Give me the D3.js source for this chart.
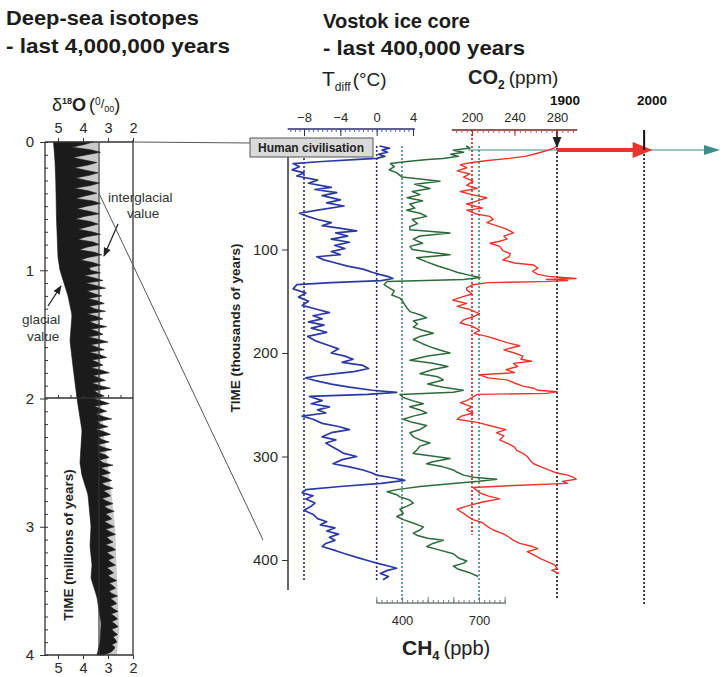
<!DOCTYPE html>
<html>
<head>
<meta charset="utf-8">
<script src="https://cdn.jsdelivr.net/npm/d3@7"></script>
<style>
  body { margin: 0; background: #fff; }
  svg { display: block; font-family: "Liberation Sans", Arial, sans-serif; }
</style>
</head>
<body>
<svg id="chart" width="722" height="677"></svg>
<script>
// ---- deep-sea record (millions of years, d18O per mil) ----
const deepStep = 0.02;
const deepBlackEdge = [
  3.60, 3.95, 4.45, 3.70, 3.30, 3.85, 4.40, 3.95, 3.45, 3.80,
  4.35, 3.90, 3.40, 3.75, 4.30, 3.85, 3.35, 3.70, 4.35, 3.80,
  3.45, 3.90, 4.30, 3.60, 3.30, 3.85, 4.25, 3.75, 3.35, 3.95,
  4.30, 3.70, 3.40, 3.80, 4.20, 3.65, 3.30, 3.90, 4.20, 3.60,
  3.35, 3.85, 4.15, 3.55, 3.25, 3.80, 4.10, 3.60, 3.30, 3.75,
  3.70, 3.30, 3.95, 3.55, 3.20, 3.90, 3.45, 3.10, 3.85, 3.60,
  3.25, 3.80, 3.40, 3.15, 3.75, 3.55, 3.10, 3.85, 3.45, 3.20,
  3.75, 3.50, 3.05, 3.70, 3.40, 3.20, 3.80, 3.35, 3.00, 3.70,
  3.45, 3.15, 3.75, 3.30, 3.05, 3.65, 3.40, 3.20, 3.70, 3.25,
  2.95, 3.60, 3.35, 3.10, 3.65, 3.30, 2.90, 3.55, 3.40, 3.15,
  3.60, 3.25, 2.95, 3.55, 3.30, 3.05, 3.50, 3.20, 2.85, 3.45,
  3.30, 3.00, 3.50, 3.15, 2.90, 3.40, 3.25, 2.95, 3.45, 3.20,
  2.85, 3.40, 3.10, 2.95, 3.35, 3.20, 2.80, 3.30, 3.10, 2.90,
  3.30, 3.05, 2.85, 3.25, 3.10, 2.80, 3.20, 3.00, 2.90, 3.25,
  3.05, 2.80, 3.15, 3.00, 2.75, 3.10, 2.95, 2.85, 3.15, 2.95,
  2.75, 3.10, 2.90, 2.70, 3.05, 2.95, 2.80, 3.10, 2.85, 2.70,
  3.05, 2.90, 2.75, 3.00, 2.85, 2.70, 3.05, 2.90, 2.78, 3.00,
  2.85, 2.65, 2.95, 2.80, 2.70, 2.95, 2.85, 2.62, 2.90, 2.75,
  2.65, 2.90, 2.78, 2.60, 2.88, 2.72, 2.62, 2.85, 2.70, 2.60,
  2.85, 2.75, 2.62, 2.80, 2.70, 2.65, 2.85, 2.72, 2.78, 2.90,
  3.20
];
const glacialAge = [0, 0.15, 0.3, 0.6, 0.9, 1.0, 1.1, 1.2, 1.35, 1.55, 1.75, 2.0, 2.25, 2.5, 2.6, 2.75, 3.0, 3.15, 3.3, 3.4, 3.55, 3.75, 3.9, 4.0];
const glacialVal = [5.18, 5.12, 5.09, 5.06, 5.0, 4.92, 4.76, 4.6, 4.44, 4.52, 4.4, 4.24, 4.04, 4.12, 4.04, 3.8, 3.68, 3.72, 3.64, 3.68, 3.44, 3.28, 3.32, 3.44];
const greyAge = [0, 1.0, 2.0, 2.3, 2.5, 2.75, 3.0, 3.4, 3.8, 4.0];
const greyVal = [3.40, 3.36, 3.28, 3.15, 3.02, 2.85, 2.72, 2.64, 2.55, 2.65];
const interglacialRef = 3.36;
const deepTicks = [0, 1, 2, 3, 4];
const d18oTicks = [5, 4, 3, 2];

// ---- Vostok record [age ka, value] ----
const tdiffSeries = [
  [0, 0.3], [2, 1.4], [4, 0.6], [6, 1.2], [8, 0.2], [10, 0.9], [12, 0.0], [13, -2], [15, -6], [17, -9.2],
  [20, -8.5], [23, -9.3], [26, -8], [29, -8.8], [33, -6.5], [36, -7.5], [40, -5], [42, -6.8], [45, -4.4], [48, -6],
  [52, -4], [55, -5.5], [58, -3.6], [62, -6.5], [65, -8.5], [68, -7.6], [71, -6.5], [74, -5], [77, -6], [80, -3.6],
  [82, -2.2], [84, -4.5], [87, -3.2], [90, -5], [93, -3], [96, -4.6], [99, -3.5], [102, -5], [105, -4], [107, -6.6],
  [110, -5.8], [113, -4.5], [116, -3.2], [119, -1.5], [122, -0.5], [124, 0.3], [126, 1.2], [128, 1.8], [130, 0.5], [132, -5],
  [134, -8.8], [138, -9.2], [142, -7.8], [146, -8.6], [150, -7.5], [154, -8.2], [158, -6.5], [161, -5.2], [164, -7], [167, -6],
  [170, -7.5], [173, -5.8], [176, -7.2], [180, -5.5], [184, -7.6], [188, -6.8], [192, -5.5], [196, -4.2], [200, -5], [203, -3.5],
  [206, -2.6], [209, -3.8], [212, -1.5], [215, -0.9], [218, -2.5], [220, -4.5], [222, -6.5], [224, -7.8], [227, -6.6], [230, -5],
  [233, -3], [236, -0.5], [238, 2.2], [240, -1], [242, -7.4], [246, -6], [249, -7.2], [252, -5.2], [255, -6.5], [258, -5.6],
  [261, -8.2], [264, -7], [268, -6], [271, -4.2], [274, -3.0], [277, -5], [281, -6], [284, -4.5], [287, -5.6], [290, -5],
  [294, -4.2], [297, -3.6], [300, -2.2], [303, -3.8], [307, -4.8], [310, -3], [313, -1.5], [316, -0.5], [318, 0], [321, 2],
  [323, 3.1], [326, 0.5], [329, -4], [332, -7.8], [335, -8.2], [338, -7], [341, -7.8], [345, -6.8], [348, -7.2], [352, -8],
  [356, -7], [360, -6.5], [363, -5.5], [366, -6.2], [369, -4.6], [372, -5.5], [375, -4.2], [378, -5.2], [381, -4.6], [384, -5.6],
  [387, -6], [391, -4.5], [394, -3.5], [398, -2], [401, -0.8], [403, 0], [406, 1.4], [408, 2.2], [410, 1.2], [413, 0.4],
  [416, 1.3], [419, 0.7]
];
const ch4Series = [
  [0, 650], [2, 665], [4, 600], [6, 640], [8, 590], [10, 620], [12, 560], [13, 500], [15, 420], [17, 355],
  [20, 370], [23, 350], [26, 380], [30, 400], [34, 548], [37, 450], [41, 509], [44, 440], [47, 470], [50, 420],
  [53, 480], [56, 430], [60, 450], [62, 418], [65, 470], [68, 496], [71, 440], [75, 460], [78, 430], [81, 431],
  [84, 587], [87, 470], [90, 444], [94, 480], [97, 431], [100, 440], [103, 520], [105, 587], [108, 457], [112, 496],
  [116, 540], [119, 580], [122, 614], [125, 665], [127, 704], [129, 640], [131, 342], [134, 330], [137, 350], [140, 370],
  [144, 360], [147, 392], [151, 405], [156, 418], [160, 431], [163, 470], [166, 496], [169, 444], [172, 460], [175, 444],
  [178, 480], [181, 522], [184, 470], [187, 444], [191, 480], [195, 520], [198, 560], [200, 587], [203, 500], [207, 431],
  [210, 520], [213, 579], [216, 520], [220, 470], [223, 540], [226, 561], [230, 500], [233, 560], [236, 639], [238, 600],
  [240, 392], [243, 405], [246, 440], [249, 483], [252, 430], [255, 470], [258, 496], [261, 444], [264, 405], [267, 440],
  [270, 496], [274, 470], [277, 431], [281, 444], [284, 470], [287, 509], [290, 470], [294, 457], [297, 444], [300, 530],
  [302, 587], [305, 520], [307, 496], [310, 560], [313, 600], [315, 613], [318, 640], [320, 678], [322, 769], [324, 700],
  [326, 600], [329, 470], [332, 380], [334, 342], [337, 380], [339, 392], [342, 430], [345, 444], [348, 420], [351, 392],
  [355, 405], [358, 380], [361, 405], [364, 440], [368, 483], [371, 470], [374, 444], [376, 457], [379, 500], [381, 561],
  [384, 520], [387, 496], [390, 540], [394, 600], [398, 620], [401, 652], [403, 640], [406, 600], [409, 620], [412, 660],
  [416, 697]
];
const co2Series = [
  [0, 280], [2, 277], [4, 272], [6, 265], [8, 258], [10, 250], [12, 235], [14, 215], [16, 200], [18, 189],
  [21, 195], [24, 186], [27, 198], [30, 192], [34, 201], [38, 195], [41, 205], [44, 189], [47, 200], [50, 214],
  [53, 205], [56, 195], [60, 210], [62, 195], [66, 205], [68, 217], [71, 220], [74, 214], [77, 223], [80, 232],
  [84, 239], [87, 230], [90, 233], [92, 226], [94, 217], [97, 226], [101, 229], [104, 236], [107, 235], [110, 229],
  [113, 240], [115, 258], [118, 262], [121, 257], [124, 262], [126, 272], [127, 285], [128, 298], [129, 270], [130, 290],
  [131, 265], [132, 215], [134, 201], [137, 195], [139, 195], [143, 200], [146, 190], [149, 182], [152, 195], [155, 186],
  [158, 198], [162, 207], [165, 201], [168, 192], [171, 189], [174, 200], [178, 207], [181, 202], [184, 214], [187, 224],
  [190, 233], [193, 245], [197, 230], [200, 240], [203, 248], [206, 246], [208, 256], [210, 239], [213, 243], [216, 232],
  [219, 240], [221, 207], [224, 215], [226, 233], [229, 240], [232, 248], [234, 258], [236, 262], [237.5, 280], [239, 270],
  [240, 205], [243, 200], [246, 195], [248, 189], [252, 200], [255, 195], [258, 201], [261, 190], [264, 186], [267, 205],
  [271, 220], [274, 232], [277, 223], [280, 230], [284, 226], [288, 235], [291, 240], [294, 242], [297, 248], [300, 252],
  [304, 255], [307, 258], [310, 265], [313, 272], [316, 280], [318, 290], [320, 295], [322, 298], [324, 285], [326, 290],
  [328, 240], [330, 201], [333, 205], [335, 207], [338, 215], [341, 226], [344, 210], [348, 195], [351, 186], [355, 192],
  [358, 196], [361, 201], [364, 210], [368, 215], [371, 220], [375, 230], [378, 235], [381, 239], [384, 245], [387, 257],
  [389, 262], [392, 252], [395, 258], [399, 265], [402, 272], [405, 278], [408, 280], [410, 275], [413, 282]
];
const vostokTicks = [100, 200, 300, 400];
const tdiffTicks = [-8, -4, 0, 4];
const co2Ticks = [200, 240, 280];
const ch4Ticks = [400, 700];
const tdiffRefs = [-8, 0];
const ch4Refs = [400, 700];
const co2Refs = [200];
const co2Modern = [280, 370];   // 1900 -> 2000 arrow
const yearMarks = [{ label: '1900', co2: 280 }, { label: '2000', co2: 362 }];

const BLUE = '#2b39a3', GREEN = '#2d6a3a', RED = '#e8342c', TEAL = '#3b8c8a';
const svg = d3.select('#chart');
svg.append('rect').attr('width', 722).attr('height', 677).attr('fill', '#fff');

const defs = svg.append('defs');
defs.append('marker').attr('id', 'ah').attr('viewBox', '0 0 10 10')
  .attr('refX', 9).attr('refY', 5).attr('markerWidth', 7).attr('markerHeight', 7)
  .attr('orient', 'auto-start-reverse')
  .append('path').attr('d', 'M0,1 L10,5 L0,9 z').attr('fill', '#222');

// titles
const titles = [
  { t: 'Deep-sea isotopes', x: 6, y: 25, w: 193 }, { t: '- last 4,000,000 years', x: 6, y: 53, w: 224 },
  { t: 'Vostok ice core', x: 323, y: 28, w: 147 }, { t: '- last 400,000 years', x: 323, y: 55, w: 202 }
];
svg.selectAll('.title').data(titles).enter().append('text')
  .attr('x', d => d.x).attr('y', d => d.y).attr('font-size', 20.5).attr('font-weight', 'bold')
  .attr('textLength', d => d.w).attr('lengthAdjust', 'spacingAndGlyphs')
  .attr('fill', '#1c1c1c').text(d => d.t);

// ================= left panel =================
const yDeep = d3.scaleLinear().domain([0, 4]).range([142, 655]);
const xDeep = d3.scaleLinear().domain([5, 2]).range([58, 133]);
const glacialAt = d3.scaleLinear().domain(glacialAge).range(glacialVal).clamp(true);
const greyAt = d3.scaleLinear().domain(greyAge).range(greyVal).clamp(true);
const deepData = deepBlackEdge.map((v, i) => ({ age: i * deepStep, val: v }));

const deep = svg.append('g');
deep.append('path').datum(deepData)
  .attr('fill', '#c9c9c9')
  .attr('d', d3.area().y(d => yDeep(d.age)).x0(d => xDeep(glacialAt(d.age))).x1(d => xDeep(greyAt(d.age))));
deep.append('path').datum(deepData)
  .attr('fill', '#1b1b1b').attr('stroke', '#1b1b1b').attr('stroke-width', 0.6)
  .attr('d', d3.area().y(d => yDeep(d.age)).x0(d => xDeep(glacialAt(d.age))).x1(d => xDeep(d.val)));

// reference line (interglacial value) and frame
deep.append('line')
  .attr('x1', xDeep(interglacialRef)).attr('x2', xDeep(interglacialRef))
  .attr('y1', yDeep(0)).attr('y2', yDeep(4)).attr('stroke', '#333').attr('stroke-width', 1.2);
const frame = [[45, 142, 133, 142], [45, 655, 133, 655], [45, 398, 133, 398], [133, 140, 133, 655], [45, 142, 45, 655]];
deep.selectAll('.frame').data(frame).enter().append('line')
  .attr('x1', d => d[0]).attr('y1', d => d[1]).attr('x2', d => d[2]).attr('y2', d => d[3])
  .attr('stroke', '#333').attr('stroke-width', 1.3);

function styleAxis(g, size, color) {
  g.select('.domain').remove();
  g.selectAll('line').attr('stroke', color || '#333');
  g.selectAll('text').attr('font-size', size).attr('fill', '#2a2a2a').attr('font-family', '"Liberation Sans", Arial, sans-serif');
}
styleAxis(deep.append('g').attr('transform', 'translate(45,0)')
  .call(d3.axisLeft(yDeep).tickValues(deepTicks).tickSize(5).tickPadding(6).tickFormat(d3.format('d'))), 15);
styleAxis(deep.append('g').attr('transform', 'translate(45,0)')
  .call(d3.axisRight(yDeep).tickValues(d3.range(0, 4.01, 0.1)).tickSize(3).tickFormat('')), 0);
styleAxis(deep.append('g').attr('transform', 'translate(0,142)')
  .call(d3.axisTop(xDeep).tickValues(d18oTicks).tickSize(4).tickPadding(5).tickFormat(d3.format('d'))), 14.5);
styleAxis(deep.append('g').attr('transform', 'translate(0,655)')
  .call(d3.axisBottom(xDeep).tickValues(d18oTicks).tickSize(4).tickPadding(4).tickFormat(d3.format('d'))), 14.5);
styleAxis(deep.append('g').attr('transform', 'translate(0,398)')
  .call(d3.axisTop(xDeep).tickValues([5, 4.5, 4, 3.5, 3, 2.5]).tickSize(3).tickFormat('')), 0);

// d18O label
const dl = svg.append('text').attr('x', 52).attr('y', 111).attr('fill', '#222').attr('font-size', 18);
dl.append('tspan').text('δ');
dl.append('tspan').attr('font-size', 9).attr('font-weight', 'bold').attr('dy', -7).text('18');
dl.append('tspan').attr('dy', 7).attr('font-weight', 'bold').text('O');
dl.append('tspan').attr('dx', 3).text('(');
dl.append('tspan').attr('font-size', 10).attr('dy', -6).text('0');
dl.append('tspan').attr('font-size', 13).attr('dy', 3).text('/');
dl.append('tspan').attr('font-size', 9).attr('dy', 4).text('00');
dl.append('tspan').attr('dy', -1).text(')');

svg.append('text').attr('transform', 'translate(73,545) rotate(-90)').attr('text-anchor', 'middle')
  .attr('font-size', 13.5).attr('font-weight', 'bold').attr('fill', '#222').text('TIME (millions of years)');

// annotations
const notes = [
  { t: 'interglacial', x: 108, y: 202 }, { t: 'value', x: 127, y: 218 },
  { t: 'glacial', x: 22, y: 324 }, { t: 'value', x: 27, y: 341 }
];
svg.selectAll('.note').data(notes).enter().append('text')
  .attr('x', d => d.x).attr('y', d => d.y).attr('font-size', 13.5).attr('fill', '#333').text(d => d.t);
svg.append('line').attr('x1', 118).attr('y1', 224).attr('x2', 104).attr('y2', 256)
  .attr('stroke', '#222').attr('stroke-width', 1.3).attr('marker-end', 'url(#ah)');
svg.append('line').attr('x1', 48).attr('y1', 306).attr('x2', 61).attr('y2', 286)
  .attr('stroke', '#222').attr('stroke-width', 1.3).attr('marker-end', 'url(#ah)');

// ================= Vostok panel =================
const yV = d3.scaleLinear().domain([0, 400]).range([146, 560]);
const xT = d3.scaleLinear().domain([-8, 4]).range([304, 413]);
const xCO2 = d3.scaleLinear().domain([200, 280]).range([472, 557]);
const xCH4 = d3.scaleLinear().domain([400, 700]).range([402, 479]);

// connectors from deep-sea panel
svg.append('line').attr('x1', 133).attr('y1', 142).attr('x2', 252).attr('y2', 143).attr('stroke', '#555').attr('stroke-width', 1);
svg.append('line').attr('x1', xDeep(interglacialRef)).attr('y1', yDeep(0.4)).attr('x2', 263).attr('y2', 540)
  .attr('stroke', '#555').attr('stroke-width', 1);

// reference dotted lines
const refLines = [];
tdiffRefs.forEach(v => refLines.push({ x: xT(v), y1: yV(0), y2: 582, c: '#2a2a8c' }));
ch4Refs.forEach(v => refLines.push({ x: xCH4(v), y1: yV(0), y2: 603, c: TEAL }));
co2Refs.forEach(v => refLines.push({ x: xCO2(v), y1: 130, y2: 535, c: '#d42020' }));
refLines.push({ x: xCO2(yearMarks[0].co2), y1: 148, y2: 598, c: '#111' });
refLines.push({ x: xCO2(yearMarks[1].co2), y1: 150, y2: 605, c: '#111' });
svg.selectAll('.ref').data(refLines).enter().append('line')
  .attr('x1', d => d.x).attr('x2', d => d.x).attr('y1', d => d.y1).attr('y2', d => d.y2)
  .attr('stroke', d => d.c).attr('stroke-width', 1.6).attr('stroke-dasharray', '2,2');

// teal time-zero arrow
const y0 = yV(0) + 4;
svg.append('line').attr('x1', 468).attr('y1', y0).attr('x2', 710).attr('y2', y0).attr('stroke', TEAL).attr('stroke-width', 1.2);
svg.append('path').attr('d', `M704,${y0 - 5} L720,${y0} L704,${y0 + 5} z`).attr('fill', TEAL);

// series
const lineOf = x => d3.line().x(d => x(d[1])).y(d => yV(d[0]));
svg.append('path').datum(co2Series).attr('fill', 'none').attr('stroke', RED).attr('stroke-width', 1.4)
  .attr('stroke-linejoin', 'round').attr('d', lineOf(xCO2));
svg.append('path').datum(ch4Series).attr('fill', 'none').attr('stroke', GREEN).attr('stroke-width', 1.5)
  .attr('stroke-linejoin', 'round').attr('d', lineOf(xCH4));
svg.append('path').datum(tdiffSeries).attr('fill', 'none').attr('stroke', BLUE).attr('stroke-width', 1.7)
  .attr('stroke-linejoin', 'round').attr('d', lineOf(xT));

// 1900 -> 2000 CO2 arrow
const xa = xCO2(co2Modern[0]), xb = xCO2(co2Modern[1]);
svg.append('line').attr('x1', xa).attr('x2', xb - 16).attr('y1', y0).attr('y2', y0).attr('stroke', RED).attr('stroke-width', 4);
svg.append('path').attr('d', `M${xb - 20},${y0 - 8} L${xb},${y0} L${xb - 20},${y0 + 8} z`).attr('fill', RED);
svg.append('line').attr('x1', xa).attr('x2', xa).attr('y1', 131).attr('y2', y0 - 3)
  .attr('stroke', '#111').attr('stroke-width', 1.6).attr('marker-end', 'url(#ah)');
svg.append('line').attr('x1', xCO2(yearMarks[1].co2)).attr('x2', xCO2(yearMarks[1].co2)).attr('y1', 130).attr('y2', y0)
  .attr('stroke', '#111').attr('stroke-width', 2);
svg.selectAll('.year').data(yearMarks).enter().append('text')
  .attr('x', d => xCO2(d.co2) + 8).attr('y', 105).attr('text-anchor', 'middle')
  .attr('font-size', 13.5).attr('font-weight', 'bold').attr('fill', '#111').text(d => d.label);

// time axis
svg.append('line').attr('x1', 288).attr('x2', 288).attr('y1', 143).attr('y2', 590).attr('stroke', '#333').attr('stroke-width', 1.5);
styleAxis(svg.append('g').attr('transform', 'translate(288,0)')
  .call(d3.axisLeft(yV).tickValues(vostokTicks).tickSize(6).tickPadding(4)), 15);
svg.append('text').attr('transform', 'translate(240,328) rotate(-90)').attr('text-anchor', 'middle')
  .attr('font-size', 13.5).attr('font-weight', 'bold').attr('fill', '#222').text('TIME (thousands of years)');

// Tdiff axis
const tdiffRange = [-9.8, 4.2];
svg.append('line').attr('x1', xT(tdiffRange[0])).attr('x2', xT(tdiffRange[1])).attr('y1', 129).attr('y2', 129)
  .attr('stroke', '#2b2d6b').attr('stroke-width', 1.6);
styleAxis(svg.append('g').attr('transform', 'translate(0,129)')
  .call(d3.axisTop(xT).tickValues(d3.range(-9.5, 4.01, 0.5)).tickSize(-3).tickFormat('')), 0, '#5560a8');
styleAxis(svg.append('g').attr('transform', 'translate(0,129)')
  .call(d3.axisTop(xT).tickValues(tdiffTicks).tickSize(-7).tickPadding(7).tickFormat(d3.format('d'))), 13, '#2b2d6b');
const tl = svg.append('text').attr('x', 322).attr('y', 86).attr('fill', '#222').attr('font-size', 21);
tl.append('tspan').text('T');
tl.append('tspan').attr('font-size', 12).attr('dy', 5).text('diff');
tl.append('tspan').attr('font-size', 19).attr('dy', -5).attr('dx', 2).text('(°C)');

// CO2 axis
const co2Range = [181, 299];
svg.append('line').attr('x1', xCO2(co2Range[0])).attr('x2', xCO2(co2Range[1])).attr('y1', 130).attr('y2', 130)
  .attr('stroke', '#6a2424').attr('stroke-width', 1.6);
styleAxis(svg.append('g').attr('transform', 'translate(0,130)')
  .call(d3.axisTop(xCO2).tickValues(d3.range(185, 296, 5)).tickSize(-3).tickFormat('')), 0, '#e05050');
styleAxis(svg.append('g').attr('transform', 'translate(0,130)')
  .call(d3.axisTop(xCO2).tickValues(co2Ticks).tickSize(-6).tickPadding(8)), 13, '#c02828');
const cl = svg.append('text').attr('x', 468).attr('y', 84).attr('fill', '#222').attr('font-size', 20);
cl.append('tspan').attr('font-weight', 'bold').text('CO');
cl.append('tspan').attr('font-weight', 'bold').attr('font-size', 12).attr('dy', 5).text('2');
cl.append('tspan').attr('font-size', 19).attr('dy', -5).attr('dx', 4).text('(ppm)');

// CH4 axis
const ch4Range = [300, 805];
svg.append('line').attr('x1', xCH4(ch4Range[0])).attr('x2', xCH4(ch4Range[1])).attr('y1', 603).attr('y2', 603)
  .attr('stroke', '#6f7f76').attr('stroke-width', 1.5);
styleAxis(svg.append('g').attr('transform', 'translate(0,603)')
  .call(d3.axisBottom(xCH4).tickValues(d3.range(300, 801, 20)).tickSize(-3).tickFormat('')), 0, '#6f7f76');
styleAxis(svg.append('g').attr('transform', 'translate(0,603)')
  .call(d3.axisBottom(xCH4).tickValues([300, 400, 500, 600, 700, 800]).tickSize(-6).tickFormat('')), 0, '#6f7f76');
styleAxis(svg.append('g').attr('transform', 'translate(0,603)')
  .call(d3.axisBottom(xCH4).tickValues(ch4Ticks).tickSize(0).tickPadding(13)), 13, '#6f7f76');
const ml = svg.append('text').attr('x', 402).attr('y', 655).attr('fill', '#222').attr('font-size', 21);
ml.append('tspan').attr('font-weight', 'bold').text('CH');
ml.append('tspan').attr('font-weight', 'bold').attr('font-size', 13).attr('dy', 5).text('4');
ml.append('tspan').attr('font-size', 20).attr('dy', -5).attr('dx', 4).text('(ppb)');

// Human civilisation box
svg.append('rect').attr('x', 250).attr('y', 138).attr('width', 123).attr('height', 19)
  .attr('fill', '#dadada').attr('stroke', '#555').attr('stroke-width', 1);
svg.append('text').attr('x', 311).attr('y', 152).attr('text-anchor', 'middle')
  .attr('font-size', 12).attr('font-weight', 'bold').attr('fill', '#222').text('Human civilisation');
</script>
</body>
</html>
